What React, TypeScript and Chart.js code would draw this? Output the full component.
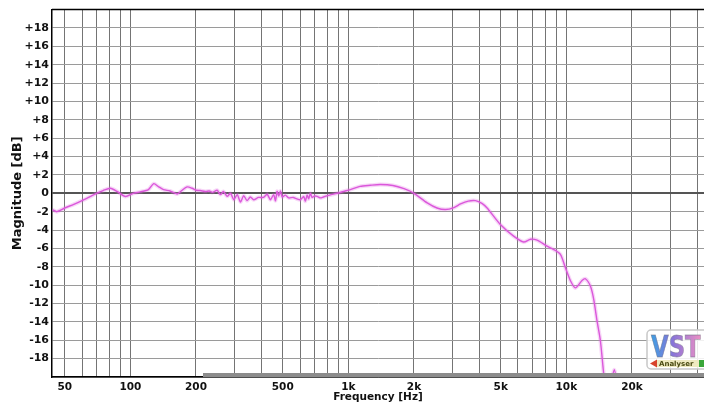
import React, { useEffect, useRef } from 'react';
import { Chart, registerables } from 'chart.js';

Chart.register(...registerables);

// Frequency response (Hz) and magnitude (dB)
const frequencies = [
  44, 46, 50, 55, 60, 65, 70, 75, 81, 87, 95, 103, 111, 121, 128, 135, 142, 152, 164, 172,
  182, 192, 200, 209, 221, 230, 238, 250, 259, 267, 278, 288, 298, 309, 320, 331, 343, 355,
  368, 387, 408, 424, 439, 454, 463, 471, 479, 488, 497, 514, 532, 559, 580, 602, 624, 635,
  647, 658, 669, 682, 700, 719, 745, 768, 820, 888, 950, 1021, 1130, 1260, 1400, 1600, 1800,
  2000, 2300, 2550, 2790, 3050, 3270, 3550, 3830, 4100, 4330, 4980, 5730, 6370, 6850, 7340,
  8150, 8720, 9390, 9900, 10430, 11000, 11800, 12220, 12890, 13340, 13830, 14320, 14830,
  15260, 15900, 16600, 17130, 17700, 19000, 22000, 42800,
];
const magnitudes = [
  -1.8, -2.0, -1.6, -1.2, -0.8, -0.4, 0.0, 0.3, 0.55, 0.2, -0.35, 0.0, 0.15, 0.4, 1.05, 0.7,
  0.4, 0.25, -0.07, 0.3, 0.7, 0.55, 0.33, 0.3, 0.2, 0.25, 0.1, 0.33, -0.14, 0.2, -0.33, 0.0,
  -0.7, -0.15, -0.95, -0.25, -0.8, -0.4, -0.7, -0.45, -0.45, -0.1, -0.7, -0.15, -0.8, 0.2,
  -0.3, 0.25, -0.4, -0.2, -0.5, -0.45, -0.6, -0.7, -0.35, -0.85, -0.2, -0.6, 0.0, -0.45,
  -0.3, -0.33, -0.5, -0.4, -0.2, 0.0, 0.2, 0.4, 0.75, 0.87, 0.95, 0.85, 0.5, 0.0, -1.05,
  -1.6, -1.77, -1.55, -1.16, -0.85, -0.8, -1.1, -1.6, -3.4, -4.66, -5.3, -5.0, -5.1, -5.75,
  -6.1, -6.65, -8.1, -9.5, -10.3, -9.5, -9.3, -10.1, -11.5, -13.9, -16.0, -19.6, -22, -21,
  -19.2, -21, -24, -28, -30, -30,
];

const xGridValues = [
  50, 60, 70, 80, 90, 100, 200, 300, 400, 500, 600, 700, 800, 900, 1000, 2000, 3000, 4000,
  5000, 6000, 7000, 8000, 9000, 10000, 20000, 30000, 40000,
];
const xLabelValues = [50, 100, 200, 500, 1000, 2000, 5000, 10000, 20000];
const xLabelTexts = ['50', '100', '200', '500', '1k', '2k', '5k', '10k', '20k'];
const yGridValues = [-20, -18, -16, -14, -12, -10, -8, -6, -4, -2, 0, 2, 4, 6, 8, 10, 12, 14, 16, 18, 20];
const yLabelValues = [-18, -16, -14, -12, -10, -8, -6, -4, -2, 0, 2, 4, 6, 8, 10, 12, 14, 16, 18];

const FONT = '"DejaVu Sans", Verdana, sans-serif';

const framePlugin = {
  id: 'frame',
  afterDraw(chart: any) {
    const { ctx, chartArea } = chart;
    const { left, right, top, bottom } = chartArea;
    ctx.save();
    // top border
    ctx.strokeStyle = '#000';
    ctx.lineWidth = 1.5;
    ctx.beginPath();
    ctx.moveTo(left, top);
    ctx.lineTo(right, top);
    ctx.stroke();
    // scroll bar at bottom
    ctx.fillStyle = '#8c8c8c';
    ctx.fillRect(203, bottom - 4, right - 203, 4);

    // VST Analyser logo
    const bx = 647, by = 330, bw = 60, bh = 39;
    ctx.fillStyle = 'rgba(255,255,255,0.85)';
    ctx.strokeStyle = '#c8c8c8';
    ctx.lineWidth = 1.5;
    ctx.beginPath();
    (ctx as any).roundRect(bx, by, bw, bh, 4);
    ctx.fill();
    ctx.stroke();

    ctx.save();
    ctx.translate(651, 357);
    ctx.scale(0.76, 1);
    ctx.font = 'bold 30px ' + FONT;
    ctx.textBaseline = 'alphabetic';
    ctx.textAlign = 'left';
    const w = ctx.measureText('VST').width;
    const g = ctx.createLinearGradient(0, 0, w, 0);
    g.addColorStop(0, '#3f9fe2');
    g.addColorStop(0.45, '#8a74d8');
    g.addColorStop(1, '#ec8fc4');
    ctx.fillStyle = g;
    ctx.fillText('VST', 0, 0);
    ctx.strokeStyle = 'rgba(110,110,130,0.55)';
    ctx.lineWidth = 0.8;
    ctx.strokeText('VST', 0, 0);
    ctx.restore();

    // Analyser bar
    ctx.fillStyle = '#efeac0';
    ctx.fillRect(657, 360, 42, 7);
    ctx.fillStyle = '#d8442c';
    ctx.beginPath();
    ctx.moveTo(650, 363.5);
    ctx.lineTo(657, 359.5);
    ctx.lineTo(657, 367.5);
    ctx.closePath();
    ctx.fill();
    ctx.fillStyle = '#3aa63a';
    ctx.fillRect(699, 360, 6, 7);
    ctx.font = 'bold 7px ' + FONT;
    ctx.textAlign = 'left';
    ctx.textBaseline = 'alphabetic';
    ctx.fillStyle = '#4a4a12';
    ctx.fillText('Analyser', 659, 366, 38);
    ctx.restore();
  },
};

export default function App() {
  const canvasRef = useRef<HTMLCanvasElement | null>(null);

  useEffect(() => {
    document.body.style.margin = '0';
    document.body.style.background = '#fff';
    const canvas = canvasRef.current;
    if (!canvas) return;
    const points = frequencies.map((f, i) => ({ x: f, y: magnitudes[i] }));
    const chart = new Chart(canvas, {
      type: 'line',
      data: {
        datasets: [
          {
            data: points,
            borderColor: 'rgba(225,110,225,0.28)',
            borderWidth: 4,
            pointRadius: 0,
            tension: 0.25,
          },
          {
            data: points,
            borderColor: '#d84ed8',
            borderWidth: 1.4,
            pointRadius: 0,
            tension: 0.25,
          },
        ],
      },
      options: {
        responsive: false,
        animation: false,
        events: [],
        layout: { padding: { top: 8, left: 0, right: 0, bottom: 0 } },
        plugins: { legend: { display: false }, tooltip: { enabled: false } },
        scales: {
          x: {
            type: 'logarithmic',
            min: 43.7,
            max: 42800,
            afterBuildTicks: (scale: any) => {
              scale.ticks = xGridValues.map((v) => ({ value: v }));
            },
            afterFit: (scale: any) => {
              scale.height = 27;
            },
            ticks: {
              autoSkip: false,
              maxRotation: 0,
              padding: 4,
              color: '#111',
              font: { family: FONT, size: 10.5, weight: 'bold' },
              callback: (v: any) => {
                const i = xLabelValues.indexOf(Number(v));
                return i >= 0 ? xLabelTexts[i] : '';
              },
            },
            grid: { color: '#747474', lineWidth: 1, drawTicks: false },
            border: { display: true, color: '#000', width: 1.5 },
            title: {
              display: true,
              text: 'Frequency [Hz]',
              color: '#111',
              font: { family: FONT, size: 10.5, weight: 'bold' },
              padding: { top: 0, bottom: 0 },
            },
          },
          y: {
            type: 'linear',
            min: -20,
            max: 20,
            afterBuildTicks: (scale: any) => {
              scale.ticks = yGridValues.map((v) => ({ value: v }));
            },
            afterFit: (scale: any) => {
              scale.width = 52;
            },
            ticks: {
              autoSkip: false,
              padding: 3,
              color: '#111',
              font: { family: FONT, size: 11, weight: 'bold' },
              callback: (v: any) => {
                const n = Number(v);
                if (yLabelValues.indexOf(n) < 0) return '';
                return n > 0 ? '+' + n : String(n);
              },
            },
            grid: {
              color: (c: any) => (c.tick && c.tick.value === 0 ? '#555' : '#9a9a9a'),
              lineWidth: (c: any) => (c.tick && c.tick.value === 0 ? 2 : 1),
              drawTicks: false,
            },
            border: { display: true, color: '#000', width: 1.5 },
            title: {
              display: true,
              text: 'Magnitude [dB]',
              color: '#111',
              font: { family: FONT, size: 13, weight: 'bold' },
              padding: { top: 10, bottom: 0 },
            },
          },
        },
      },
      plugins: [framePlugin],
    } as any);
    return () => chart.destroy();
  }, []);

  return (
    <div style={{ width: 704, height: 404, background: '#fff' }}>
      <canvas ref={canvasRef} width={704} height={404} style={{ display: 'block' }} />
    </div>
  );
}
